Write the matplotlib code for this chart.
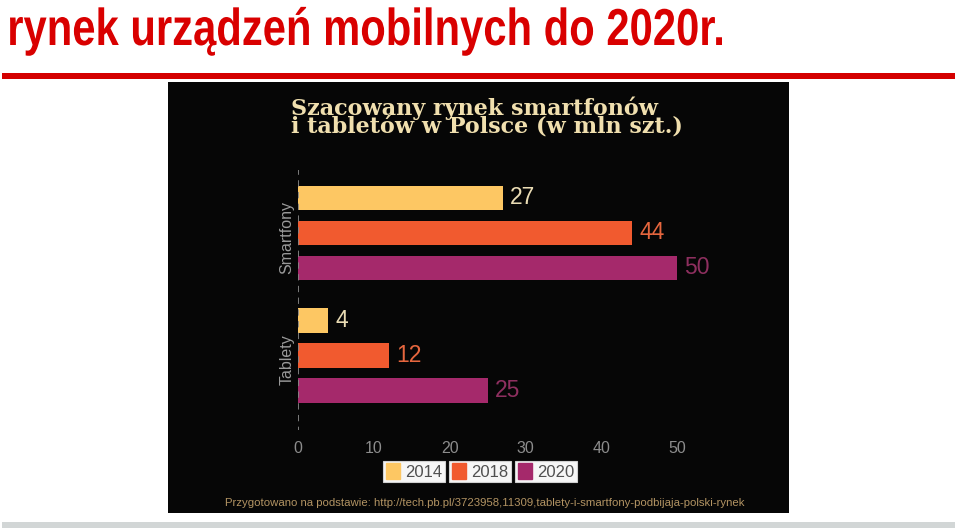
import matplotlib.pyplot as plt
from matplotlib.patches import Rectangle, Patch, PathPatch
from matplotlib.textpath import TextPath
from matplotlib.font_manager import FontProperties
from matplotlib.transforms import Affine2D

# data
groups = ['Smartfony', 'Tablety']
years = ['2014', '2018', '2020']
smartfony = [27, 44, 50]
tablety = [4, 12, 25]
xticks = [0, 10, 20, 30, 40, 50]

bar_colors = ['#fdc763', '#f15a2f', '#a5296b']
label_colors = ['#eadcb4', '#e6663e', '#8e2f5f']

W, H = 960, 531


def fx(x):
    return x / W


def fy(y):
    return 1 - y / H


fig = plt.figure(figsize=(W / 100, H / 100), dpi=100)
fig.patch.set_facecolor('white')

# slide title, squeezed horizontally like the original slide
title = 'rynek urządzeń mobilnych do 2020r.'
tp = TextPath((0, 0), title, size=52, prop=FontProperties(family='Liberation Sans', weight='bold'))
ext = tp.get_extents()
sx = 712 / ext.width
tr = Affine2D().translate(-ext.x0, 0).scale(sx, 1).translate(10, H - 45).scale(1 / 100) + fig.dpi_scale_trans
fig.add_artist(PathPatch(tp, transform=tr, color='#d90000', lw=0))

fig.add_artist(Rectangle((fx(2), fy(79)), fx(953), 6 / H, transform=fig.transFigure,
                         color='#d40000', lw=0))
fig.add_artist(Rectangle((fx(2), fy(528)), fx(953), 6 / H, transform=fig.transFigure,
                         color='#d2d6d6', lw=0))
# black picture
fig.add_artist(Rectangle((fx(168), fy(513)), fx(621), 431 / H, transform=fig.transFigure,
                         color='#060606', lw=0, zorder=-5))

fig.text(fx(291), fy(96), 'Szacowany rynek smartfonów\ni tabletów w Polsce (w mln szt.)',
         family='DejaVu Serif', fontweight='bold', fontsize=16, color='#f0dfae', va='top',
         linespacing=0.83)

# chart
ax = fig.add_axes([fx(298), fy(430), fx(379), 260 / H])
ax.set_facecolor('none')
pos = [[0, 1, 2], [3.5, 4.5, 5.5]]
for g, vals in enumerate([smartfony, tablety]):
    for i, v in enumerate(vals):
        ax.barh(pos[g][i], v, height=0.7, color=bar_colors[i], lw=0)
        ax.text(v + 1.0, pos[g][i], str(v), color=label_colors[i], fontsize=16.5,
                family='Liberation Sans', va='center', ha='left')
    ax.text(-1.45, (pos[g][0] + pos[g][2]) / 2 + 0.12, groups[g], rotation=90,
            color='#9a9a9a', fontsize=11.5, family='Liberation Sans', ha='center', va='center')

ax.set_xlim(0, 50)
ax.set_ylim(6.63, -0.8)
ax.axvline(0, color='#858585', lw=1.3, ls=(0, (3.5, 3)), ymin=-0.01)
for s in ax.spines.values():
    s.set_visible(False)
ax.set_yticks([])
ax.set_xticks(xticks)
ax.set_xticklabels([str(t) for t in xticks], color='#8c8c8c', fontsize=11.5,
                   family='Liberation Sans')
ax.tick_params(axis='x', length=0, pad=8)

# legend boxes
leg_x = [414, 480, 546]
for i, yr in enumerate(years):
    lg = fig.legend(handles=[Patch(color=bar_colors[i])], labels=[yr],
                    loc='center', bbox_to_anchor=(fx(leg_x[i]), fy(471.5)),
                    frameon=True, fancybox=False, framealpha=1,
                    handlelength=0.85, handleheight=1.05, handletextpad=0.3,
                    borderpad=0.15, borderaxespad=0, labelcolor='#505050',
                    prop={'family': 'Liberation Sans', 'size': 12})
    lg.get_frame().set_facecolor('#f6f6f6')
    lg.get_frame().set_edgecolor('#d0d0d0')
    lg.get_frame().set_linewidth(0.8)

fig.text(fx(485), fy(503), 'Przygotowano na podstawie: http://tech.pb.pl/3723958,11309,tablety-i-smartfony-podbijaja-polski-rynek',
         family='Liberation Sans', fontsize=8.2, color='#b39463', ha='center', va='center')

fig.savefig('out.png', dpi=100)
